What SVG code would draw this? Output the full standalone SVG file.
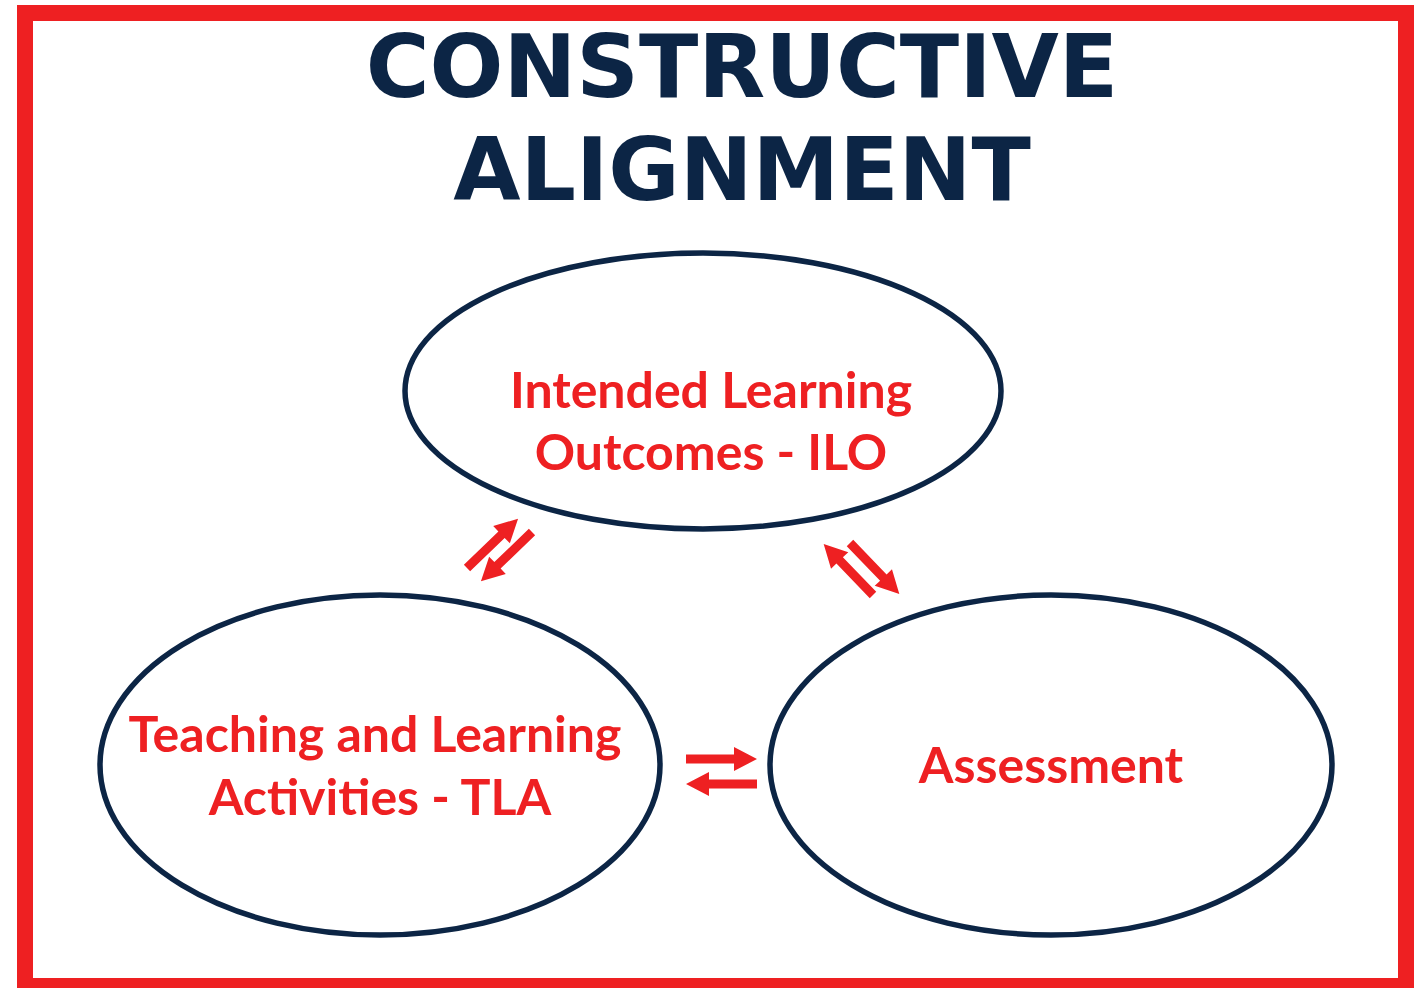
<svg xmlns="http://www.w3.org/2000/svg" width="1420" height="988" viewBox="0 0 1420 988">
  <style>
    .frame { fill: none; stroke: #ee2022; stroke-width: 16; }
    .title { font-family: "DejaVu Sans", Verdana, sans-serif; font-weight: bold; font-size: 87px; fill: #0c2545; text-anchor: middle; }
    .oval { fill: #ffffff; stroke: #0c2545; stroke-width: 5.5; }
    .label { font-family: Lato, "Open Sans", sans-serif; font-weight: bold; font-size: 50px; fill: #ee2022; text-anchor: middle; }
    .arrow { fill: #ee2022; }
  </style>
  <defs>
    <!-- block arrow pointing along +x, length 71 -->
    <path id="blk" d="M0,-4.5 H48 V-12 L71,0 L48,12 V4.5 H0 Z"/>
  </defs>

  <rect width="1420" height="988" fill="#ffffff"/>
  <rect class="frame" x="25" y="13" width="1381" height="973"/>

  <g id="title">
    <text class="title" x="742" y="97">CONSTRUCTIVE</text>
    <text class="title" x="742" y="200">ALIGNMENT</text>
  </g>

  <g id="ilo">
    <ellipse class="oval" cx="703" cy="391" rx="298" ry="138"/>
    <text class="label" x="711" y="408">Intended Learning</text>
    <text class="label" x="711" y="470">Outcomes - ILO</text>
  </g>

  <g id="tla">
    <ellipse class="oval" cx="380" cy="765" rx="280" ry="170"/>
    <text class="label" x="375" y="752">Teaching and Learning</text>
    <text class="label" x="380" y="815">Activities - TLA</text>
  </g>

  <g id="assessment">
    <ellipse class="oval" cx="1051" cy="765" rx="281" ry="170"/>
    <text class="label" x="1051" y="783">Assessment</text>
  </g>

  <g id="connectors" class="arrow">
    <!-- TLA <-> ILO -->
    <use href="#blk" transform="translate(467,568) rotate(-44)"/>
    <use href="#blk" transform="translate(532,532) rotate(136)"/>
    <!-- ILO <-> Assessment -->
    <use href="#blk" transform="translate(873,595) rotate(-134)"/>
    <use href="#blk" transform="translate(850,543) rotate(46)"/>
    <!-- TLA <-> Assessment -->
    <use href="#blk" transform="translate(686,759)"/>
    <use href="#blk" transform="translate(757,784) rotate(180)"/>
  </g>
</svg>
